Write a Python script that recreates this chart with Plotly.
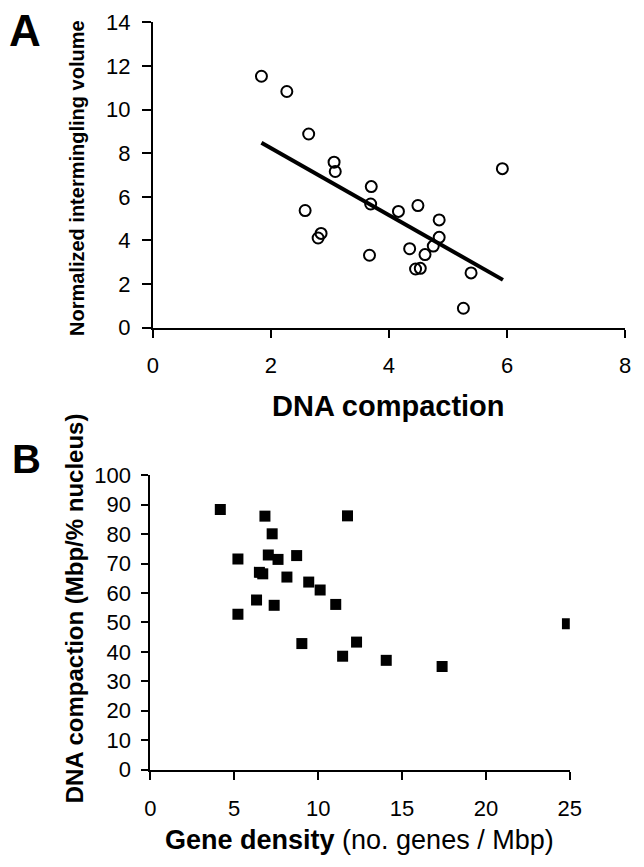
import plotly.graph_objects as go

# Panel A: DNA compaction vs normalized intermingling volume
a_x = [1.84, 2.27, 2.64, 3.07, 3.09, 3.70, 3.69, 2.58, 4.16, 4.49, 4.85, 4.85,
       4.75, 4.61, 4.35, 4.45, 4.53, 2.85, 2.80, 3.67, 5.39, 5.26, 5.92]
a_y = [11.53, 10.83, 8.88, 7.59, 7.16, 6.47, 5.67, 5.37, 5.33, 5.60, 4.94, 4.14,
       3.74, 3.35, 3.62, 2.69, 2.72, 4.32, 4.11, 3.32, 2.51, 0.89, 7.29]
trend_x = [1.84, 5.93]
trend_y = [8.48, 2.19]
a_xticks = [0, 2, 4, 6, 8]
a_yticks = [0, 2, 4, 6, 8, 10, 12, 14]

# Panel B: gene density vs DNA compaction
b_x = [4.17, 6.83, 11.75, 7.26, 5.22, 7.03, 7.61, 8.72, 6.50, 6.70, 8.14, 9.44,
       10.12, 6.33, 7.38, 11.05, 5.22, 9.03, 12.29, 11.46, 14.06, 17.39, 24.86]
b_y = [88.4, 86.1, 86.2, 80.1, 71.5, 72.9, 71.4, 72.7, 67.0, 66.5, 65.4, 63.7,
       61.0, 57.6, 55.8, 56.1, 52.8, 42.8, 43.3, 38.5, 37.1, 35.0, 49.5]
b_xticks = [0, 5, 10, 15, 20, 25]
b_yticks = [0, 10, 20, 30, 40, 50, 60, 70, 80, 90, 100]

W, H = 644, 867
FONT = "Liberation Sans, Arial, sans-serif"

fig = go.Figure()
fig.add_trace(go.Scatter(x=trend_x, y=trend_y, mode="lines",
                         line=dict(color="black", width=4),
                         xaxis="x", yaxis="y", showlegend=False))
fig.add_trace(go.Scatter(x=a_x, y=a_y, mode="markers",
                         marker=dict(symbol="circle-open", size=11,
                                     color="black", line=dict(width=2, color="black")),
                         xaxis="x", yaxis="y", showlegend=False))
fig.add_trace(go.Scatter(x=b_x, y=b_y, mode="markers",
                         marker=dict(symbol="square", size=11, color="black"),
                         xaxis="x2", yaxis="y2", showlegend=False))

axis_common = dict(showline=True, linecolor="black", linewidth=2,
                   ticks="outside", tickcolor="black", tickwidth=2,
                   showgrid=False, zeroline=False,
                   tickfont=dict(family=FONT, size=22, color="black"))

fig.update_layout(
    width=W, height=H,
    margin=dict(l=0, r=0, t=0, b=0),
    paper_bgcolor="white", plot_bgcolor="white",
    xaxis=dict(domain=[151/W, 637/W], range=[0, 8], tickvals=a_xticks,
               ticklen=8, ticklabelstandoff=9, anchor="y", **axis_common),
    yaxis=dict(domain=[1-325/H, 1-10.7/H], range=[0, 14], tickvals=a_yticks,
               ticklen=9, ticklabelstandoff=7, anchor="x", **axis_common),
    xaxis2=dict(domain=[148.5/W, 580/W], range=[0, 25], tickvals=b_xticks,
                ticklen=8, ticklabelstandoff=10, anchor="y2", **axis_common),
    yaxis2=dict(domain=[1-780/H, 1-477/H], range=[0, 100], tickvals=b_yticks,
                ticklen=7, ticklabelstandoff=6, anchor="x2", **axis_common),
)

def ann(text, x, y, size, angle=0, bold=True):
    t = f"<b>{text}</b>" if bold else text
    fig.add_annotation(text=t, x=x / W, y=1 - y / H, xref="paper", yref="paper",
                       showarrow=False, textangle=angle, xanchor="center",
                       yanchor="middle", font=dict(family=FONT, size=size, color="black"))

ann("A", 20, 19, 44)
ann("B", 21, 460, 40)
ann("Normalized intermingling volume", 73, 171, 20, angle=-90)
ann("DNA compaction", 393, 406, 29)
ann("DNA compaction (Mbp/% nucleus)", 70, 614, 24, angle=-90)
ann("<b>Gene density</b> (no. genes / Mbp)", 364, 853, 27, bold=False)

fig.write_html("out.html", config={"displayModeBar": False},
               post_script="document.body.style.margin='0';document.body.style.overflow='hidden';")
